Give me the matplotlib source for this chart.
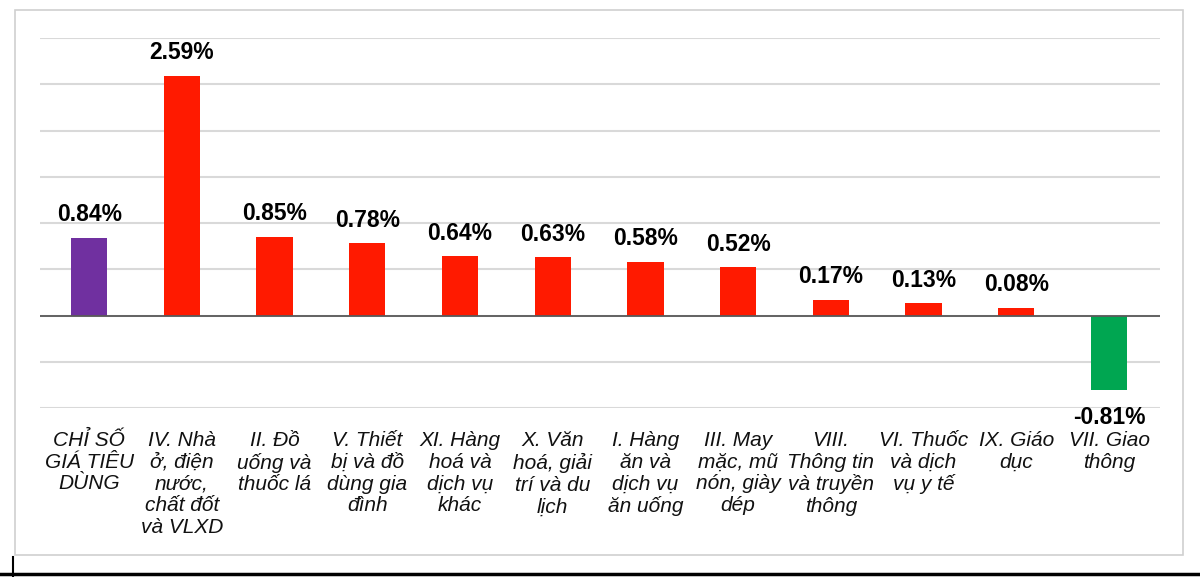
import matplotlib.pyplot as plt
from matplotlib.lines import Line2D
from matplotlib.patches import Rectangle

categories = [
    "CHỈ SỐ\nGIÁ TIÊU\nDÙNG",
    "IV. Nhà\nở, điện\nnước,\nchất đốt\nvà VLXD",
    "II. Đồ\nuống và\nthuốc lá",
    "V. Thiết\nbị và đồ\ndùng gia\nđình",
    "XI. Hàng\nhoá và\ndịch vụ\nkhác",
    "X. Văn\nhoá, giải\ntrí và du\nlịch",
    "I. Hàng\năn và\ndịch vụ\năn uống",
    "III. May\nmặc, mũ\nnón, giày\ndép",
    "VIII.\nThông tin\nvà truyền\nthông",
    "VI. Thuốc\nvà dịch\nvụ y tế",
    "IX. Giáo\ndục",
    "VII. Giao\nthông",
]
values = [0.84, 2.59, 0.85, 0.78, 0.64, 0.63, 0.58, 0.52, 0.17, 0.13, 0.08, -0.81]
value_labels = ["0.84%", "2.59%", "0.85%", "0.78%", "0.64%", "0.63%",
                "0.58%", "0.52%", "0.17%", "0.13%", "0.08%", "-0.81%"]

plt.rcParams['font.family'] = ['Liberation Sans', 'DejaVu Sans']

colors = []
for i, v in enumerate(values):
    if i == 0:
        colors.append("#7030A0")
    elif v < 0:
        colors.append("#00A651")
    else:
        colors.append("#FF1A00")

fig = plt.figure(figsize=(12, 5.77), dpi=100)
ax = fig.add_axes([40/1200, 1-408/577, 1120/1200, 370/577])

x = list(range(len(values)))
ax.bar(x, values, width=0.39, color=colors, zorder=3)

ax.set_ylim(-1.0, 3.0)
ax.set_xlim(-0.53, 11.55)
ax.set_yticks([-1.0, -0.5, 0, 0.5, 1.0, 1.5, 2.0, 2.5, 3.0])
ax.yaxis.grid(True, color="#D9D9D9", lw=1.5, zorder=0)
ax.axhline(0, color="#595959", lw=1.3, zorder=4)
ax.tick_params(axis="y", left=False, labelleft=False)
ax.tick_params(axis="x", bottom=False, pad=13)
ax.set_xticks(x)
ax.set_xticklabels(categories, fontsize=15, style="italic",
                   linespacing=1.18, va="top", ha="center", color="#111111")
for s in ax.spines.values():
    s.set_visible(False)

for xi, v, lab in zip(x, values, value_labels):
    if v >= 0:
        ax.annotate(lab, (xi, v), xytext=(0, 12), textcoords="offset points",
                    ha="center", va="baseline", fontsize=16.5, fontweight="bold")
    else:
        ax.annotate(lab, (xi, v), xytext=(0, -11), textcoords="offset points",
                    ha="center", va="top", fontsize=16.5, fontweight="bold")

# outer frame and screenshot edge
fig.patches.append(Rectangle((15/1200, 1-555/577), 1168/1200, 545/577,
                             transform=fig.transFigure, fill=False,
                             edgecolor="#D0D0D0", lw=1.2))
fig.lines.append(Line2D([0, 1], [1-574/577, 1-574/577], transform=fig.transFigure,
                        color="black", lw=2.5))
fig.lines.append(Line2D([13/1200, 13/1200], [0, 1-557/577], transform=fig.transFigure,
                        color="black", lw=1.5))

fig.savefig("out.png", dpi=100)
